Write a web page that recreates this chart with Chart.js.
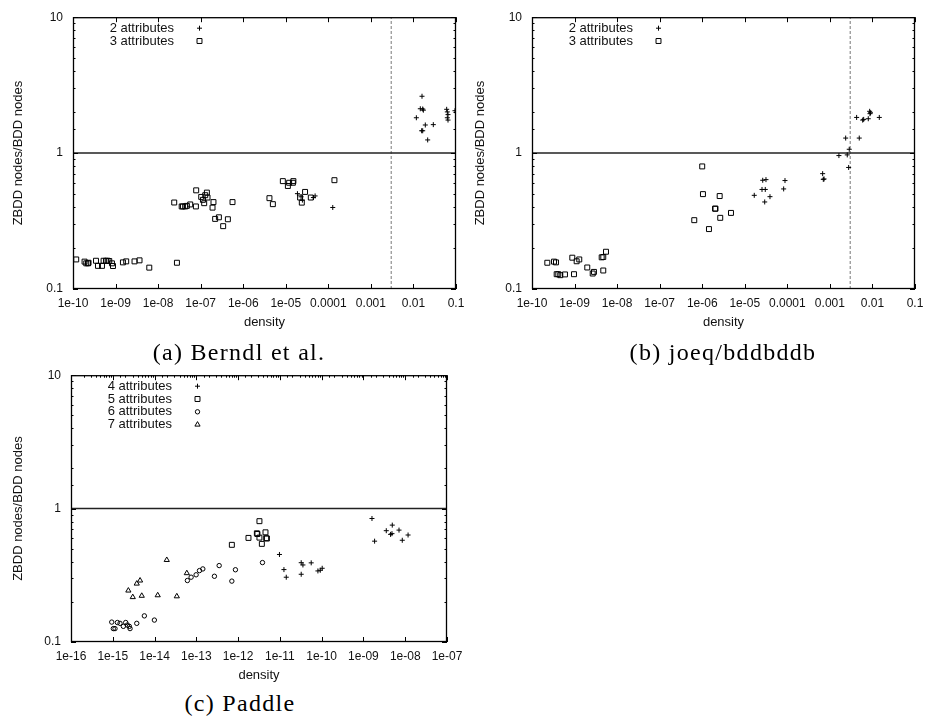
<!DOCTYPE html>
<html>
<head>
<meta charset="utf-8">
<script src="https://cdn.jsdelivr.net/npm/chart.js@4.4.0/dist/chart.umd.min.js"></script>
<style>
  html, body { margin: 0; padding: 0; background: #fff; overflow: hidden; }
  body { width: 925px; height: 717px; position: relative; }
  canvas { position: absolute; }
  .caption {
    position: absolute;
    font-family: "Liberation Serif", "Times New Roman", serif;
    font-size: 24px;
    line-height: 24px;
    letter-spacing: 1.3px;
    color: #000;
    white-space: nowrap;
    transform: translateX(-50%);
  }
</style>
</head>
<body>
<canvas id="berndl" width="480" height="330" style="left:0;top:0"></canvas>
<canvas id="joeq" width="480" height="330" style="left:462px;top:0"></canvas>
<canvas id="paddle" width="480" height="325" style="left:0;top:358px"></canvas>
<div class="caption" style="left:239px;top:340px">(a) Berndl et al.</div>
<div class="caption" style="left:723px;top:340px">(b) joeq/bddbddb</div>
<div class="caption" style="left:240px;top:691px">(c) Paddle</div>

<script>
// points are [density, ZBDD nodes / BDD nodes]

// (a) Berndl et al.
const berndl2 = [
    [1.88e-5, 0.503], [2.29e-5, 0.477], [2.46e-5, 0.451], [4.46e-5, 0.471], [4.89e-5, 0.484],
    [1.27e-4, 0.398],
    [0.0117, 1.82], [0.0145, 2.12], [0.0159, 2.62], [0.0165, 2.11], [0.0171, 2.07], [0.019, 1.61],
    [0.0293, 1.62], [0.0156, 1.46], [0.0165, 1.46], [0.0216, 1.25], [0.0604, 2.10], [0.0625, 2.01],
    [0.0649, 1.92], [0.0625, 1.82], [0.0649, 1.75], [0.0946, 2.05]
];
const berndl3 = [
    [1.19e-10, 0.165], [1.87e-10, 0.159], [2.05e-10, 0.1545], [2.25e-10, 0.1545], [2.32e-10, 0.156],
    [3.47e-10, 0.1614], [3.86e-10, 0.148], [4.8e-10, 0.148], [5.23e-10, 0.1614], [5.95e-10, 0.1614],
    [6.49e-10, 0.1614], [7.11e-10, 0.1607], [8.23e-10, 0.1545], [8.7e-10, 0.1476], [1.49e-9, 0.157],
    [1.78e-9, 0.1597], [2.79e-9, 0.1597], [3.66e-9, 0.1625], [6.2e-9, 0.1436], [2.77e-8, 0.156],
    [2.39e-8, 0.433], [3.58e-8, 0.405], [3.83e-8, 0.405], [4.33e-8, 0.405], [4.75e-8, 0.409],
    [5.68e-8, 0.419], [7.73e-8, 0.405], [7.85e-8, 0.532], [1.03e-7, 0.476], [1.13e-7, 0.453],
    [1.21e-7, 0.428], [1.28e-7, 0.49], [1.4e-7, 0.512], [1.45e-7, 0.471], [1.9e-7, 0.397],
    [2.0e-7, 0.436], [2.19e-7, 0.328], [2.68e-7, 0.337], [3.38e-7, 0.29], [4.36e-7, 0.326],
    [5.6e-7, 0.436],
    [4.13e-6, 0.466], [4.97e-6, 0.421], [8.53e-6, 0.622], [1.12e-5, 0.573], [1.2e-5, 0.605],
    [1.47e-5, 0.605], [1.51e-5, 0.622], [2.17e-5, 0.471], [2.38e-5, 0.432], [2.84e-5, 0.518],
    [3.87e-5, 0.471], [1.39e-4, 0.632]
];

// (b) joeq/bddbddb
const joeq2 = [
    [1.67e-5, 0.489], [2.64e-5, 0.631], [3.15e-5, 0.638], [2.54e-5, 0.54], [3.03e-5, 0.54],
    [3.91e-5, 0.478], [2.94e-5, 0.437], [8.81e-5, 0.628], [8.2e-5, 0.545], [6.76e-4, 0.706],
    [7.0e-4, 0.641], [7.3e-4, 0.645], [1.63e-3, 0.959], [2.35e-3, 1.29], [2.56e-3, 0.97],
    [2.85e-3, 1.067], [2.76e-3, 0.784], [4.25e-3, 1.83], [4.9e-3, 1.29], [5.89e-3, 1.75],
    [6.22e-3, 1.77], [7.98e-3, 1.79], [8.6e-3, 2.03], [8.75e-3, 1.95], [9.0e-3, 1.98],
    [0.0145, 1.83]
];
const joeq3 = [
    [2.29e-10, 0.156], [3.29e-10, 0.159], [3.66e-10, 0.157], [3.8e-10, 0.1285], [4.15e-10, 0.1285],
    [4.62e-10, 0.1264], [5.96e-10, 0.128], [9.7e-10, 0.1285], [8.85e-10, 0.170], [1.12e-9, 0.16],
    [1.29e-9, 0.165], [1.99e-9, 0.144], [2.67e-9, 0.130], [2.86e-9, 0.1336], [4.34e-9, 0.171],
    [4.73e-9, 0.172], [5.48e-9, 0.188], [4.73e-9, 0.1368],
    [1.0e-6, 0.798], [1.04e-6, 0.499], [2.57e-6, 0.483], [2.0e-6, 0.39], [2.05e-6, 0.39],
    [2.65e-6, 0.334], [4.74e-6, 0.363], [6.5e-7, 0.321], [1.44e-6, 0.276]
];

// (c) Paddle
const paddle4 = [
    [9.77e-12, 0.453], [1.25e-11, 0.349], [1.42e-11, 0.306], [3.24e-11, 0.322], [3.24e-11, 0.393],
    [3.56e-11, 0.378], [5.62e-11, 0.392], [8.13e-11, 0.341], [9.25e-11, 0.345], [1.03e-10, 0.357],
    [1.6e-9, 0.843], [1.85e-9, 0.57], [3.52e-9, 0.683], [4.9e-9, 0.752], [4.82e-9, 0.649],
    [4.46e-9, 0.641], [7.1e-9, 0.69], [8.5e-9, 0.579], [1.17e-8, 0.634]
];
const paddle5 = [
    [3.24e-12, 0.805], [1.77e-12, 0.603], [2.81e-12, 0.653], [2.9e-12, 0.645], [3.24e-12, 0.606],
    [4.52e-12, 0.664], [4.7e-12, 0.6], [4.89e-12, 0.597], [3.7e-12, 0.544], [7.08e-13, 0.535]
];
const paddle6 = [
    [9.44e-16, 0.141], [1.03e-15, 0.126], [1.13e-15, 0.126], [1.29e-15, 0.14], [1.49e-15, 0.138],
    [1.79e-15, 0.131], [2.04e-15, 0.14], [2.23e-15, 0.134], [2.49e-15, 0.131], [2.59e-15, 0.126],
    [3.75e-15, 0.138], [5.7e-15, 0.157], [9.9e-15, 0.146], [6.11e-14, 0.289], [7.5e-14, 0.306],
    [9.88e-14, 0.319], [1.19e-13, 0.343], [1.43e-13, 0.353], [2.71e-13, 0.311], [3.52e-13, 0.374],
    [7.08e-13, 0.286], [8.63e-13, 0.348], [3.83e-12, 0.394]
];
const paddle7 = [
    [1.96e-14, 0.412], [5.92e-14, 0.328], [2.36e-15, 0.243], [3.75e-15, 0.274], [4.5e-15, 0.289],
    [3.01e-15, 0.217], [4.94e-15, 0.222], [1.19e-14, 0.224], [3.41e-14, 0.22]
];

// tick labels
const berndlXLabels = ['1e-10', '1e-09', '1e-08', '1e-07', '1e-06', '1e-05', '0.0001', '0.001', '0.01', '0.1'];
const paddleXLabels = ['1e-16', '1e-15', '1e-14', '1e-13', '1e-12', '1e-11', '1e-10', '1e-09', '1e-08', '1e-07'];
const yLabels = ['0.1', '1', '10'];

const parityRatio = 1;        // ZBDD size == BDD size
const densityThreshold = 0.003;

const FONT = '"Liberation Sans", Arial, Helvetica, sans-serif';
Chart.defaults.font.family = FONT;
Chart.defaults.font.size = 12;
Chart.defaults.color = '#111';

const markerRadius = { cross: 2.5, rect: 3.5, circle: 2.2, triangle: 3 };

function isDecade(v) {
    const e = Math.log10(v);
    return Math.abs(e - Math.round(e)) < 1e-9;
}

function decadeLabel(labels, minValue) {
    const base = Math.round(Math.log10(minValue));
    return (value) => isDecade(value) ? (labels[Math.round(Math.log10(value)) - base] || '') : '';
}

// same shapes as Chart.js point styles, for the key
function drawMarker(ctx, style, r, x, y) {
    ctx.beginPath();
    if (style === 'cross') {
        ctx.moveTo(x - r, y); ctx.lineTo(x + r, y);
        ctx.moveTo(x, y - r); ctx.lineTo(x, y + r);
    } else if (style === 'rect') {
        const s = r * Math.SQRT1_2;
        ctx.rect(x - s, y - s, 2 * s, 2 * s);
    } else if (style === 'circle') {
        ctx.arc(x, y, r, 0, Math.PI * 2);
    } else if (style === 'triangle') {
        for (let i = 0; i < 3; i++) {
            const a = i * 2 * Math.PI / 3;
            const px = x + Math.sin(a) * r, py = y - Math.cos(a) * r;
            i ? ctx.lineTo(px, py) : ctx.moveTo(px, py);
        }
        ctx.closePath();
    }
    ctx.stroke();
}

// gnuplot-like frame with inward ticks, plus the key in the top-left corner
const framePlugin = {
    id: 'gnuFrame',
    afterDatasetsDraw(chart, args, opts) {
        const { ctx, chartArea: a, scales: { x, y } } = chart;
        ctx.save();
        ctx.strokeStyle = '#000';
        ctx.lineWidth = 1;
        ctx.beginPath();
        x.ticks.forEach(t => {
            const major = isDecade(t.value);
            if (!major && !opts.topMinor) return;
            const px = Math.round(x.getPixelForValue(t.value)) + 0.5;
            if (major) {
                ctx.moveTo(px, a.bottom); ctx.lineTo(px, a.bottom - 5);
            }
            ctx.moveTo(px, a.top); ctx.lineTo(px, a.top + (major ? 5 : 2.5));
        });
        y.ticks.forEach(t => {
            const len = isDecade(t.value) ? 5 : 2.5;
            const py = Math.round(y.getPixelForValue(t.value)) + 0.5;
            ctx.moveTo(a.left, py); ctx.lineTo(a.left + len, py);
            ctx.moveTo(a.right, py); ctx.lineTo(a.right - len, py);
        });
        ctx.stroke();
        ctx.lineWidth = 1.3;
        ctx.strokeRect(a.left + 0.5, a.top + 0.5, a.right - a.left - 1, a.bottom - a.top - 1);

        // key
        ctx.font = '13px ' + FONT;
        ctx.fillStyle = '#111';
        ctx.textAlign = 'right';
        ctx.textBaseline = 'middle';
        ctx.lineWidth = 1;
        let row = 0;
        chart.data.datasets.forEach(ds => {
            if (ds.showLine) return;
            const yy = a.top + 11 + row * 12.8;
            ctx.fillText(ds.label, a.left + 101, yy);
            drawMarker(ctx, ds.pointStyle, ds.pointRadius, a.left + 126.5, yy);
            row++;
        });
        ctx.restore();
    }
};

function makeChart(canvasId, cfg) {
    const ctx = document.getElementById(canvasId).getContext('2d');
    const datasets = cfg.series.map(s => ({
        label: s.label,
        data: s.data.map(([x, y]) => ({ x, y })),
        pointStyle: s.style,
        pointRadius: markerRadius[s.style],
        borderColor: '#000',
        backgroundColor: 'rgba(0,0,0,0)',
        borderWidth: 1,
        showLine: false
    }));

    datasets.push({
        label: '',
        data: [{ x: cfg.xMin, y: parityRatio }, { x: cfg.xMax, y: parityRatio }],
        showLine: true,
        borderColor: '#222',
        borderWidth: 1.5,
        pointRadius: 0
    });
    if (cfg.threshold) {
        datasets.push({
            label: '',
            data: [{ x: cfg.threshold, y: 0.1 }, { x: cfg.threshold, y: 10 }],
            showLine: true,
            borderColor: '#777',
            borderWidth: 1,
            borderDash: [3, 2],
            pointRadius: 0
        });
    }

    return new Chart(ctx, {
        type: 'scatter',
        data: { datasets },
        plugins: [framePlugin],
        options: {
            responsive: false,
            animation: false,
            layout: { padding: cfg.padding },
            scales: {
                x: {
                    type: 'logarithmic',
                    min: cfg.xMin,
                    max: cfg.xMax,
                    grid: { display: false, drawTicks: false },
                    border: { display: false },
                    ticks: {
                        autoSkip: false,
                        maxRotation: 0,
                        padding: 7,
                        color: '#111',
                        callback: decadeLabel(cfg.xLabels, cfg.xMin)
                    },
                    title: {
                        display: true,
                        text: 'density',
                        font: { size: 13 },
                        padding: { top: 0, bottom: 0 }
                    },
                    afterFit: (s) => { s.height = cfg.xHeight; }
                },
                y: {
                    type: 'logarithmic',
                    min: 0.1,
                    max: 10,
                    grid: { display: false, drawTicks: false },
                    border: { display: false },
                    ticks: {
                        autoSkip: false,
                        padding: 10,
                        color: '#111',
                        callback: decadeLabel(yLabels, 0.1)
                    },
                    title: {
                        display: true,
                        text: 'ZBDD nodes/BDD nodes',
                        font: { size: 13 },
                        padding: { top: 10.5, bottom: 0 }
                    },
                    afterFit: (s) => { s.width = cfg.yWidth; }
                }
            },
            plugins: {
                legend: { display: false },
                tooltip: { enabled: false },
                gnuFrame: { topMinor: !!cfg.topMinor }
            }
        }
    });
}

makeChart('berndl', {
    xMin: 1e-10, xMax: 0.1, xLabels: berndlXLabels,
    series: [
        { label: '2 attributes', data: berndl2, style: 'cross' },
        { label: '3 attributes', data: berndl3, style: 'rect' }
    ],
    threshold: densityThreshold,
    padding: { left: 0, top: 14, right: 24, bottom: 0 },
    yWidth: 73, xHeight: 41
});

makeChart('joeq', {
    xMin: 1e-10, xMax: 0.1, xLabels: berndlXLabels,
    series: [
        { label: '2 attributes', data: joeq2, style: 'cross' },
        { label: '3 attributes', data: joeq3, style: 'rect' }
    ],
    threshold: densityThreshold,
    padding: { left: 0, top: 14, right: 27, bottom: 0 },
    yWidth: 70, xHeight: 41
});

makeChart('paddle', {
    xMin: 1e-16, xMax: 1e-7, xLabels: paddleXLabels,
    series: [
        { label: '4 attributes', data: paddle4, style: 'cross' },
        { label: '5 attributes', data: paddle5, style: 'rect' },
        { label: '6 attributes', data: paddle6, style: 'circle' },
        { label: '7 attributes', data: paddle7, style: 'triangle' }
    ],
    topMinor: true,
    padding: { left: 0, top: 14, right: 33, bottom: 0 },
    yWidth: 71, xHeight: 41
});
</script>
</body>
</html>
